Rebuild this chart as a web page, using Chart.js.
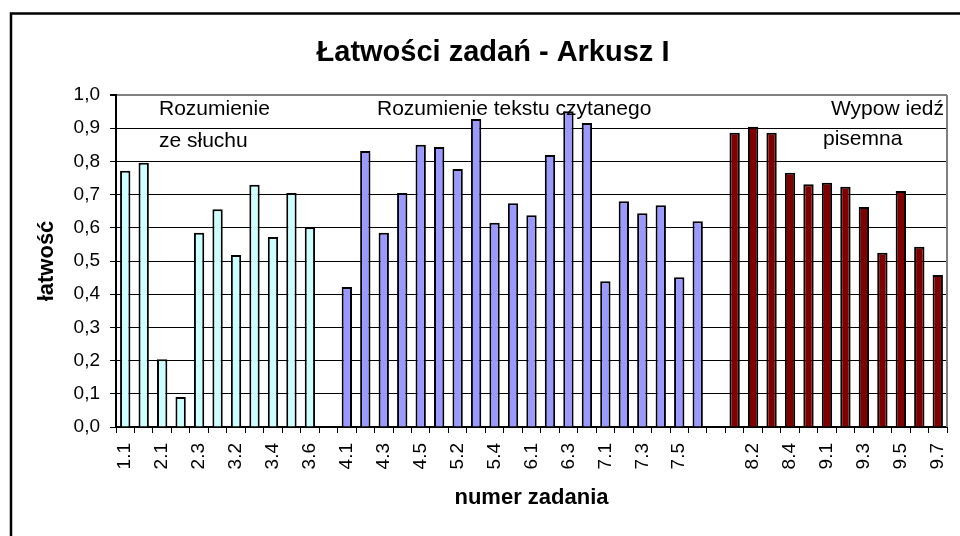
<!DOCTYPE html>
<html lang="pl">
<head>
<meta charset="utf-8">
<title>Łatwości zadań - Arkusz I</title>
<script src="https://cdn.jsdelivr.net/npm/chart.js@4/dist/chart.umd.min.js"></script>
<style>
  html, body { margin: 0; padding: 0; background: #fff; }
  #wrap { width: 960px; height: 536px; position: relative; }
</style>
</head>
<body>
<div id="wrap"><canvas id="chart"></canvas></div>
<script>
// task numbers, one per slot on the x axis ('' = empty gap between sections)
const tasks = [
  "1.1", "1.2", "2.1", "2.2", "2.3", "3.1", "3.2", "3.3", "3.4", "3.5", "3.6", "",
  "4.1", "4.2", "4.3", "4.4", "4.5", "5.1", "5.2", "5.3", "5.4", "5.5",
  "6.1", "6.2", "6.3", "6.4", "7.1", "7.2", "7.3", "7.4", "7.5", "7.6", "",
  "8.1", "8.2", "8.3", "8.4", "8.5", "9.1", "9.2", "9.3", "9.4", "9.5", "9.6", "9.7"
]

const listening = [0.772, 0.796, 0.204, 0.090, 0.585, 0.656, 0.518, 0.730, 0.572, 0.705, 0.602]
const reading = [0.422, 0.831, 0.585, 0.705, 0.850, 0.843, 0.777, 0.928, 0.615, 0.674,
  0.638, 0.819, 0.951, 0.916, 0.439, 0.680, 0.644, 0.668, 0.451, 0.620]
const writing = [0.886, 0.904, 0.886, 0.766, 0.731, 0.736, 0.724, 0.663, 0.525, 0.711, 0.543, 0.458]

const yTicks = [0, 0.1, 0.2, 0.3, 0.4, 0.5, 0.6, 0.7, 0.8, 0.9, 1.0]

// place each section's values into its own slots on the shared axis
function placed(values, firstTask) {
  const start = tasks.indexOf(firstTask)
  return tasks.map((_, i) => (i >= start && i < start + values.length ? values[i - start] : null))
}

const FONT = "'Liberation Sans', Arial, sans-serif"

const frame = {
  id: "frame",
  afterDraw(chart) {
    const { ctx, chartArea: a } = chart
    ctx.save()
    // gray plot border on the right
    ctx.strokeStyle = "#808080"
    ctx.lineWidth = 2
    ctx.beginPath()
    ctx.moveTo(a.right, a.top)
    ctx.lineTo(a.right, a.bottom)
    ctx.stroke()

    // outer frame (runs off the bottom and right of the picture)
    ctx.strokeStyle = "#000"
    ctx.lineWidth = 2.5
    ctx.strokeRect(11, 13.5, 2000, 2000)

    ctx.fillStyle = "#000"
    ctx.font = `bold 29px ${FONT}`
    ctx.textAlign = "center"
    ctx.textBaseline = "alphabetic"
    ctx.fillText("Łatwości zadań - Arkusz I", 493, 61)

    // section captions inside the plot
    ctx.font = `21px ${FONT}`
    ctx.textAlign = "left"
    ctx.fillText("Rozumienie", a.left + 43, a.top + 20)
    ctx.fillText("ze słuchu", a.left + 43, a.top + 52)
    ctx.fillText("Rozumienie tekstu czytanego", a.left + 261, a.top + 20)
    ctx.fillText("pisemna", a.left + 707, a.top + 50)
    ctx.textAlign = "right"
    ctx.fillText("Wypow iedź", a.right - 3, a.top + 20)
    ctx.restore()
  }
}

const barStyle = { borderColor: "#000", borderWidth: 2, grouped: false, barPercentage: 0.56, categoryPercentage: 1 }

new Chart(document.getElementById("chart"), {
  type: "bar",
  data: {
    labels: tasks,
    datasets: [
      { label: "Rozumienie ze słuchu", data: placed(listening, "1.1"), backgroundColor: "#ccffff", ...barStyle },
      { label: "Rozumienie tekstu czytanego", data: placed(reading, "4.1"), backgroundColor: "#9999ff", ...barStyle },
      { label: "Wypowiedź pisemna", data: placed(writing, "8.1"), backgroundColor: "#800000", ...barStyle }
    ]
  },
  options: {
    responsive: true,
    maintainAspectRatio: false,
    animation: false,
    layout: { padding: { left: 16, right: 13, top: 95, bottom: 10 } },
    plugins: { legend: { display: false }, tooltip: { enabled: false }, title: { display: false } },
    scales: {
      x: {
        offset: true,
        grid: { offset: true, drawOnChartArea: false, tickLength: 6, tickColor: "#000", lineWidth: 1 },
        border: { color: "#000", width: 2 },
        ticks: {
          autoSkip: false,
          minRotation: 90,
          maxRotation: 90,
          padding: 10,
          color: "#000",
          font: { family: FONT, size: 19 },
          callback: (v, i) => (i % 2 === 0 ? tasks[i] : "")
        },
        title: {
          display: true,
          text: "numer zadania",
          color: "#000",
          font: { family: FONT, size: 22, weight: "bold" },
          padding: { top: 0, bottom: 15 }
        },
        afterFit: (s) => {
          s.height = 99
          s.paddingLeft = 0
          s.paddingRight = 0
        }
      },
      y: {
        min: 0,
        max: 1,
        afterBuildTicks: (s) => { s.ticks = yTicks.map((v) => ({ value: v })) },
        grid: {
          color: (c) => (c.tick && c.tick.value === 1 ? "#808080" : "#000"),
          lineWidth: (c) => (c.tick && c.tick.value === 1 ? 2 : 1),
          tickColor: "#000",
          tickLength: 6
        },
        border: { color: "#000", width: 2 },
        ticks: {
          padding: 10,
          color: "#000",
          font: { family: FONT, size: 19 },
          callback: (v) => v.toFixed(1).replace(".", ",")
        },
        title: {
          display: true,
          text: "łatwość",
          color: "#000",
          font: { family: FONT, size: 22, weight: "bold" },
          padding: { top: 18, bottom: 0 }
        },
        afterFit: (s) => { s.width = 100 }
      }
    }
  },
  plugins: [frame]
})
</script>
</body>
</html>
